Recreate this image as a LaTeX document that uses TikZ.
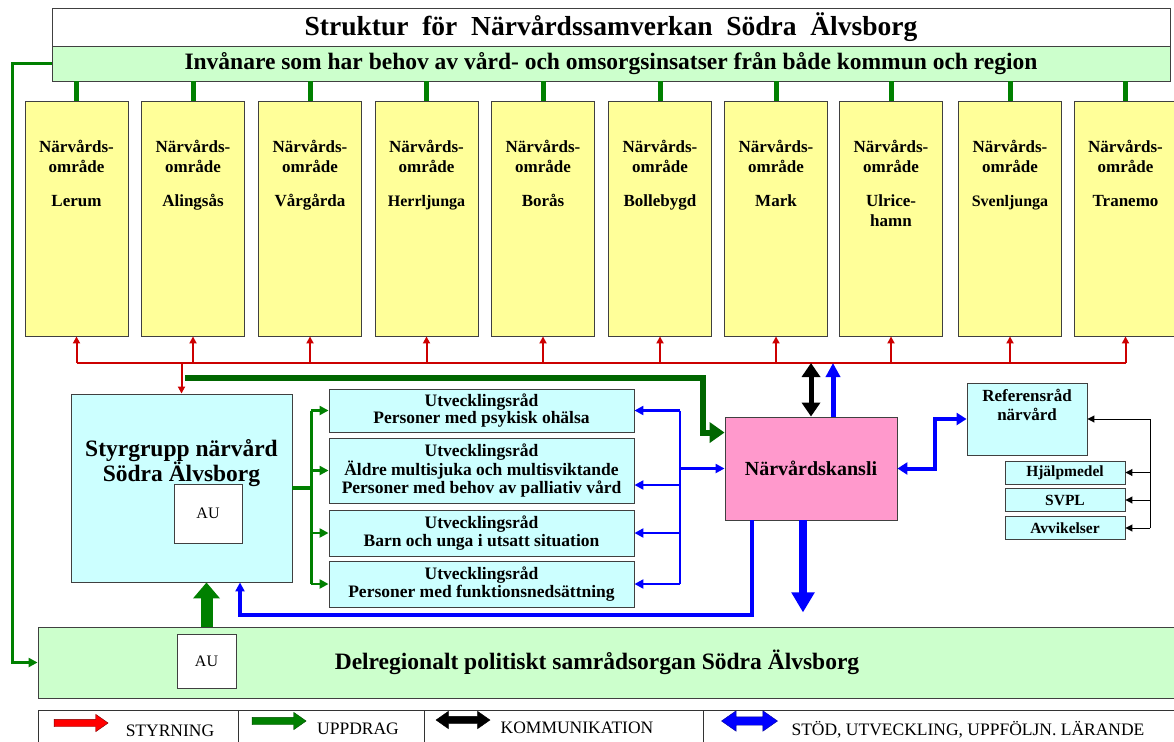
\documentclass[tikz,border=0pt]{standalone}
\usepackage{fontspec}
\setmainfont{Liberation Serif}
\usetikzlibrary{arrows.meta,calc,shapes.arrows}

\definecolor{gulbox}{HTML}{FFFF99}
\definecolor{ljusbla}{HTML}{CCFFFF}
\definecolor{ljusgron}{HTML}{CCFFCC}
\definecolor{rosa}{HTML}{FF99CC}
\definecolor{rod}{HTML}{CC0000}
\definecolor{gron}{HTML}{008000}
\definecolor{morkgron}{HTML}{006600}
\definecolor{bla}{HTML}{0000FF}

\tikzset{
  ruta/.style={draw=black!75,line width=0.9pt},
  omr/.style={ruta,fill=gulbox,minimum width=103pt,minimum height=235pt},
  omrtxt/.style={font=\bfseries\fontsize{17}{20}\selectfont,align=center,anchor=north,yshift=-36pt},
  utv/.style={ruta,fill=ljusbla,minimum width=305pt,inner sep=0pt,font=\bfseries\fontsize{17.5}{17.5}\selectfont,align=center},
  liten/.style={ruta,fill=ljusbla,minimum width=120pt,minimum height=23pt,inner sep=0pt,font=\bfseries\fontsize{15.5}{16}\selectfont},
  styrning/.style={rod,line width=2pt,-{Triangle[length=7pt,width=7pt]}},
  uppdrag/.style={gron,line width=2.5pt,-{Triangle[length=9pt,width=9pt]}},
  stod/.style={bla,line width=2.5pt,-{Triangle[length=9pt,width=9pt]}},
  komm/.style={black,line width=1pt,-{Triangle[length=7pt,width=7pt]}},
  legtxt/.style={font=\fontsize{17.5}{20}\selectfont},
}

\begin{document}
\begin{tikzpicture}[x=1pt,y=-1pt]
    \useasboundingbox (0,0) rectangle (1174,741);

    % rubrik och invanare
    \node[ruta,fill=white,minimum width=1118pt,minimum height=38pt,font=\bfseries\fontsize{27.5}{30}\selectfont] (titel) at (611,27) {Struktur~ för~ Närvårdssamverkan~ Södra~ Älvsborg};
    \node[ruta,fill=ljusgron,minimum width=1118pt,minimum height=35pt,font=\bfseries\fontsize{23.5}{26}\selectfont] (inv) at (611,63.5) {Invånare som har behov av vård- och omsorgsinsatser från både kommun och region};

    % narvardsomraden
    \coordinate (buss) at (0,363);
    \foreach \x/\nm/\txt in {76.5/lerum/Lerum, 193/alingsas/Alingsås, 310/vargarda/Vårgårda, 426.5/herrljunga/{\fontsize{16}{18}\selectfont Herrljunga}, 543/boras/Borås, 660/bollebygd/Bollebygd, 776/mark/Mark, 891/ulricehamn/{Ulrice-\\hamn}, 1010/svenljunga/{\fontsize{16}{18}\selectfont Svenljunga}, 1125.5/tranemo/Tranemo}{
        \node[omr,label={[omrtxt]north:{Närvårds-\\område\\[14pt]\txt}}] (\nm) at (\x,218.5) {};
        \draw[gron,line width=5pt] (\nm.north) -- (\nm.north |- inv.south);
        \draw[styrning] (\nm.south |- buss) -- (\nm.south);
    }
    \draw[rod,line width=2pt] (lerum.south |- buss) -- (tranemo.south |- buss);

    % styrgrupp
    \node[ruta,fill=ljusbla,minimum width=221pt,minimum height=188pt,label={[font=\bfseries\fontsize{23.5}{22}\selectfont,align=center,anchor=north,yshift=-42pt]north:{Styrgrupp närvård\\Södra Älvsborg}}] (styr) at (181.5,488) {};
    \node[ruta,fill=white,minimum width=68pt,minimum height=59pt,font=\fontsize{16}{18}\selectfont] (au1) at (208,513.5) {AU};
    \draw[styrning] (styr.north |- buss) -- (styr.north);

    % utvecklingsrad
    \node[utv,minimum height=43pt] (utv1) at (481.5,410.5) {Utvecklingsråd\\Personer med psykisk ohälsa};
    \node[utv,minimum height=65pt] (utv2) at (481.5,470.5) {Utvecklingsråd\\Äldre multisjuka och multisviktande\\Personer med behov av palliativ vård};
    \node[utv,minimum height=46pt] (utv3) at (481.5,533) {Utvecklingsråd\\Barn och unga i utsatt situation};
    \node[utv,minimum height=46pt] (utv4) at (481.5,584) {Utvecklingsråd\\Personer med funktionsnedsättning};

    % kansli och referensrad
    \node[ruta,fill=rosa,minimum width=172pt,minimum height=103pt,font=\bfseries\fontsize{20}{22}\selectfont] (kansli) at (811,468.5) {Närvårdskansli};
    \node[ruta,fill=ljusbla,minimum width=120pt,minimum height=72pt,label={[font=\bfseries\fontsize{17}{19}\selectfont,align=center,anchor=north,yshift=-3pt]north:{Referensråd\\närvård}}] (ref) at (1027,419) {};
    \node[liten] (hjalp) at (1065,472.5) {Hjälpmedel};
    \node[liten] (svpl) at (1065,500) {SVPL};
    \node[liten] (avvik) at (1065,528) {Avvikelser};

    % samradsorgan
    \node[ruta,fill=ljusgron,minimum width=1140pt,minimum height=71pt,font=\bfseries\fontsize{23.5}{26}\selectfont] (delreg) at (608,662.5) {\hspace*{-22pt}Delregionalt politiskt samrådsorgan Södra Älvsborg};
    \node[ruta,fill=white,minimum width=59pt,minimum height=54pt,font=\fontsize{16}{18}\selectfont] (au2) at (206.5,661) {AU};

    % uppdrag
    \draw[uppdrag,line width=3.5pt] (inv.west) -- ++(-39,0) |- (delreg.west);
    \coordinate (uppstart) at (185,378);
    \draw[morkgron,line width=6pt,-{Triangle[length=15pt,width=20pt]}] (uppstart) -- ++(518,0) |- ($(kansli.north west)+(0,16)$);
    \draw[gron,line width=4pt] (styr.east) -- ++(19,0) coordinate (gforgr);
    \draw[gron,line width=2.5pt] (gforgr |- utv1.west) -- (gforgr |- utv4.west);
    \foreach \u in {utv1,utv2,utv3,utv4}
        \draw[uppdrag] (gforgr |- \u.west) -- (\u.west);
    \draw[gron,line width=12pt,-{Triangle[length=16pt,width=26pt]}] (au2.north |- delreg.north) -- (au2.north |- styr.south);

    % stod
    \coordinate (bbuss) at (680,0);
    \draw[bla,line width=2.5pt] (bbuss |- utv1.east) -- (bbuss |- utv4.east);
    \foreach \u in {utv1,utv3,utv4}
        \draw[stod] (bbuss |- \u.east) -- (\u.east);
    \draw[stod] ($(bbuss |- utv2.east)+(0,14.5)$) -- ($(utv2.east)+(0,14.5)$);
    \draw[stod] (bbuss |- kansli.west) -- (kansli.west);
    \draw[stod,line width=4pt] ($(kansli.south west)+(27,0)$) -- ++(0,95) -| ($(styr.south)+(58.5,0)$);
    \draw[bla,line width=8pt,-{Triangle[length=20pt,width=22pt]}] ($(kansli.south)+(-8,0)$) -- ++(0,92);
    \draw[bla,line width=5pt,-{Triangle[length=14pt,width=14pt]}] ($(kansli.north)+(22,0)$) -- ($(kansli.north |- buss)+(22,0)$);
    \draw[bla,line width=4pt,{Triangle[length=10pt,width=12pt]}-{Triangle[length=10pt,width=12pt]}] (kansli.east) -- ++(38,0) |- (ref.west);

    % kommunikation
    \draw[black,line width=5pt,{Triangle[length=14pt,width=18pt]}-{Triangle[length=14pt,width=18pt]}] (kansli.north |- buss) -- (kansli.north);
    \coordinate (kbuss) at (1150,0);
    \draw[black,line width=1pt] (kbuss |- ref.east) -- (kbuss |- avvik.east);
    \foreach \b in {ref,hjalp,svpl,avvik}
        \draw[komm] (kbuss |- \b.east) -- (\b.east);

    % teckenforklaring
    \draw[black!80,line width=1pt] (38,745) -- (38,710) -- (1180,710);
    \foreach \d in {238,424,703}
        \draw[black!80,line width=1pt] (\d,710) -- (\d,745);
    \node[single arrow,fill=red,draw=rod!60!black,minimum height=54pt,inner sep=0pt,text height=7pt,text depth=0pt,single arrow head extend=5pt,single arrow tip angle=70] (lstyr) at (78.5,723) {};
    \node[single arrow,fill=gron,draw=gron!60!black,minimum height=54pt,inner sep=0pt,text height=7pt,text depth=0pt,single arrow head extend=5pt,single arrow tip angle=70] (lupp) at (276.5,721) {};
    \node[double arrow,fill=black,draw=black,minimum height=54pt,inner sep=0pt,text height=7pt,text depth=0pt,double arrow head extend=5pt,double arrow tip angle=70] (lkomm) at (463,720) {};
    \node[double arrow,fill=bla,draw=bla!60!black,minimum height=56pt,inner sep=0pt,text height=8pt,text depth=0pt,double arrow head extend=6pt,double arrow tip angle=70] (lstod) at (749.5,721) {};
    \node[legtxt] (tstyr) at (170,731) {STYRNING};
    \node[legtxt] (tupp) at (358,729) {UPPDRAG};
    \node[legtxt] (tkomm) at (577,728) {KOMMUNIKATION};
    \node[legtxt] (tstod) at (968,730) {STÖD, UTVECKLING, UPPFÖLJN. LÄRANDE};

\end{tikzpicture}
\end{document}
